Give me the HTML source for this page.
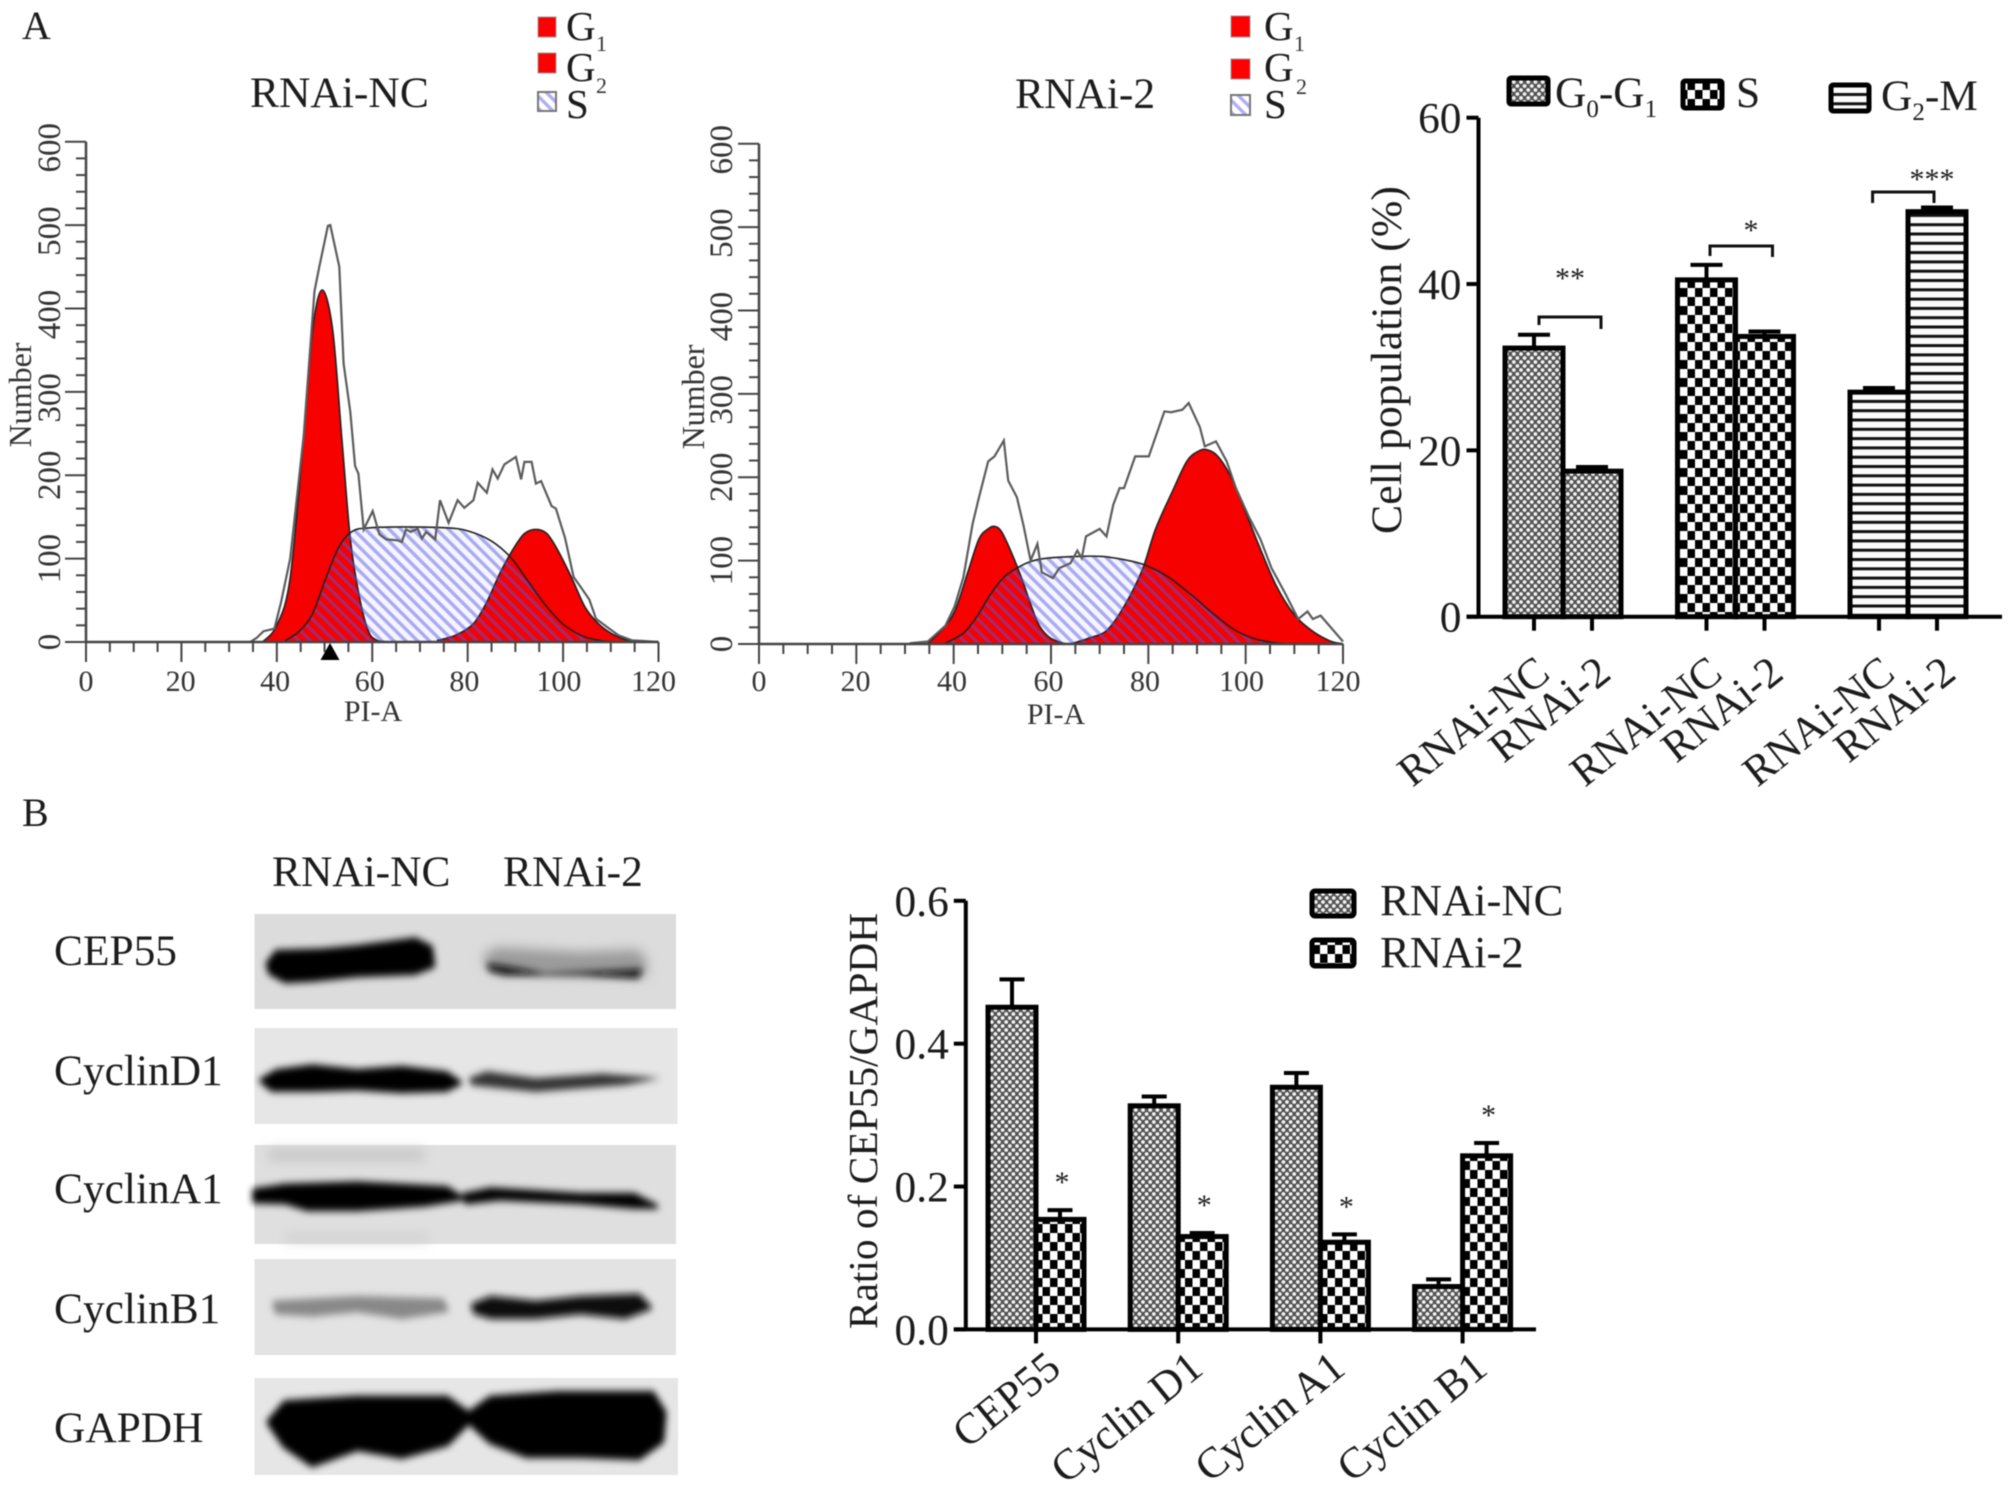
<!DOCTYPE html>
<html>
<head>
<meta charset="utf-8">
<title>Cell cycle figure</title>
<style>
html,body{margin:0;padding:0;background:#fff;width:2008px;height:1500px;overflow:hidden}
svg{display:block;filter:blur(.6px)}
text{font-family:"Liberation Serif",serif;fill:#1c1c1c}
.p{font-size:40px}.t{font-size:43.5px}.h{font-size:30px;fill:#333}.hy{font-size:33px;fill:#333}.n{font-size:32px;fill:#333}.s{font-size:22px;fill:#333}.g{font-size:41px}
.b{font-size:43.4px}.st{font-size:30px}
</style>
</head>
<body>
<svg id="fig" xmlns="http://www.w3.org/2000/svg" width="2008" height="1500" viewBox="0 0 2008 1500">
<defs>
<pattern id="dots" patternUnits="userSpaceOnUse" width="7.2" height="8"><rect width="7.2" height="8" fill="#555"/><circle cx="1.8" cy="2" r="1.9" fill="#f4f4f4"/><circle cx="5.4" cy="6" r="1.9" fill="#f4f4f4"/></pattern>
<pattern id="checks" patternUnits="userSpaceOnUse" width="15" height="18"><rect width="15" height="18" fill="#fff"/><rect width="7.5" height="9" fill="#000"/><rect x="7.5" y="9" width="7.5" height="9" fill="#000"/></pattern>
<pattern id="lines" patternUnits="userSpaceOnUse" width="10" height="9.3"><rect width="10" height="9.3" fill="#fbfbfb"/><rect width="10" height="3" fill="#111"/></pattern>
<pattern id="hatch" patternUnits="userSpaceOnUse" width="8.4" height="8.4" patternTransform="rotate(-45)"><rect width="3.4" height="8.4" fill="rgb(85,85,225)" fill-opacity=".47"/></pattern>
<filter id="blot" x="-10%" y="-40%" width="120%" height="180%"><feGaussianBlur stdDeviation="8"/></filter>
<filter id="blot2" x="-10%" y="-60%" width="120%" height="220%"><feGaussianBlur stdDeviation="13"/></filter>
</defs>

<text class="p" x="22" y="39">A</text>
<text class="p" x="22" y="826">B</text>

<g>
<text class="t" x="250" y="107">RNAi-NC</text>
<text class="h" text-anchor="middle" x="373" y="721">PI-A</text>
<text class="n" text-anchor="middle" transform="translate(31,395) rotate(-90)">Number</text>
<rect x="538" y="17" width="18" height="20" fill="#f00" stroke="#999"/>
<rect x="538" y="53" width="18" height="20" fill="#f00" stroke="#999"/>
<rect x="538" y="92" width="18" height="19" fill="url(#hatch)" stroke="#777" stroke-width="2"/>
<text class="g" x="566" y="40">G</text><text class="s" x="596" y="51">1</text>
<text class="g" x="566" y="81">G</text><text class="s" x="596" y="93">2</text>
<text class="g" x="566" y="118">S</text>
</g>

<g>
<text class="t" x="1015" y="108">RNAi-2</text>
<text class="h" text-anchor="middle" x="1056" y="724">PI-A</text>
<text class="n" text-anchor="middle" transform="translate(704,397) rotate(-90)">Number</text>
<rect x="1231" y="16" width="19" height="21" fill="#f00" stroke="#999"/>
<rect x="1231" y="59" width="19" height="20" fill="#f00" stroke="#999"/>
<rect x="1231" y="95" width="19" height="20" fill="url(#hatch)" stroke="#777" stroke-width="2"/>
<text class="g" x="1264" y="40">G</text><text class="s" x="1294" y="51">1</text>
<text class="g" x="1264" y="81">G</text><text class="s" x="1296" y="94">2</text>
<text class="g" x="1264" y="118">S</text>
</g>

<g id="hist-nc"></g>
<g id="hist-2"></g>
<path d="M330 643 L320.5 660 L339.5 660 Z" fill="#000"/>

<g>
<rect x="1509" y="78" width="39" height="26" rx="2" fill="url(#dots)" stroke="#000" stroke-width="5"/>
<text class="b" x="1555" y="107">G<tspan font-size="25" dy="10">0</tspan><tspan dy="-10">-G</tspan><tspan font-size="25" dy="10">1</tspan></text>
<rect x="1683" y="81" width="39" height="27" rx="2" fill="url(#checks)" stroke="#000" stroke-width="5"/>
<text class="b" x="1736" y="107">S</text>
<rect x="1831" y="85" width="38" height="26" rx="2" fill="url(#lines)" stroke="#000" stroke-width="5"/>
<text class="b" x="1881" y="110">G<tspan font-size="25" dy="10">2</tspan><tspan dy="-10">-M</tspan></text>
</g>
<text class="b" style="font-size:43.8px" text-anchor="middle" transform="translate(1401,360) rotate(-90)">Cell population (%)</text>
<g id="cycle-chart"></g>
<g fill="none" stroke="#111" stroke-width="3">
<path d="M1539 325V317H1601V329"/>
<path d="M1710 256V246H1772.5V257"/>
<path d="M1872.6 203V192H1934V203"/>
</g>
<text class="st" text-anchor="middle" x="1570" y="288">**</text>
<text class="st" text-anchor="middle" x="1751" y="240">*</text>
<text class="st" text-anchor="middle" x="1932" y="189">***</text>

<g>
<text class="b" x="272" y="886">RNAi-NC</text>
<text class="b" x="503" y="886">RNAi-2</text>
<text class="b" x="54" y="965">CEP55</text>
<text class="b" x="54" y="1085">CyclinD1</text>
<text class="b" x="54" y="1203">CyclinA1</text>
<text class="b" x="54" y="1323">CyclinB1</text>
<text class="b" x="54" y="1442">GAPDH</text>
<rect x="254.5" y="914" width="421.5" height="95" fill="#dcdcdc"/>
<rect x="254.5" y="1028" width="423" height="96" fill="#e6e6e6"/>
<rect x="254.5" y="1145" width="421.5" height="99" fill="#dfdfdf"/>
<rect x="254.5" y="1259" width="421.5" height="96" fill="#e3e3e3"/>
<rect x="254.5" y="1378" width="423.5" height="97" fill="#e6e6e6"/>
<g transform="translate(0,780) scale(.4464,.4587)">
<g filter="url(#blot2)">
<path d="M1080 385L1110 365L1300 375L1430 370L1450 395L1445 430L1300 425L1100 420Z" fill="#9a9a9a"/>
<path d="M600 805L950 805L950 830L600 830Z" fill="#c6c6c6"/>
<path d="M640 990L960 990L960 1005L640 1005Z" fill="#cccccc"/>
</g>
<g filter="url(#blot)" stroke-linejoin="round" stroke-width="10">
<path d="M600 400L620 375L720 372L800 365L930 348L965 365L970 405L930 420L800 425L700 435L640 438L605 420Z" fill="#000" stroke="#000"/>
<path d="M1090 400L1130 405L1220 420L1380 415L1440 412L1430 432L1300 425L1130 425L1095 415Z" fill="#111"/>
<path d="M585 655L620 635L700 625L800 635L900 628L1000 640L1030 660L1000 675L900 678L800 672L700 675L610 675Z" fill="#000" stroke="#000"/>
<path d="M1050 650L1090 635L1200 650L1350 640L1480 650L1400 665L1200 680L1080 668L1055 665Z" fill="#333"/>
<path d="M570 895L640 885L800 880L1000 890L1035 912L950 925L800 935L690 935L640 920L570 918Z" fill="#000" stroke="#000"/>
<path d="M1040 905L1100 893L1300 905L1420 905L1470 930L1420 930L1300 920L1120 912L1045 920Z" fill="#000" stroke="#000"/>
<path d="M615 1140L700 1135L800 1130L990 1135L1000 1155L900 1170L800 1155L700 1165L620 1160Z" fill="#888" stroke="#888"/>
<path d="M1060 1145L1100 1130L1200 1140L1300 1130L1430 1125L1455 1150L1400 1170L1300 1160L1200 1170L1100 1170L1065 1160Z" fill="#111" stroke="#111"/>
<path d="M605 1400L640 1360L800 1350L1000 1350L1050 1385L1100 1350L1250 1340L1460 1340L1485 1380L1480 1440L1430 1475L1300 1470L1180 1470L1100 1440L1050 1395L1000 1445L900 1472L800 1455L700 1490L640 1450Z" fill="#000" stroke="#000" stroke-width="16"/>
</g>
</g>
</g>

<g>
<rect x="1312" y="891" width="42" height="25" rx="3" fill="url(#dots)" stroke="#000" stroke-width="5"/>
<rect x="1312" y="940" width="42" height="26" rx="3" fill="url(#checks)" stroke="#000" stroke-width="5"/>
<text class="b" style="font-size:44.6px" x="1380" y="915">RNAi-NC</text>
<text class="b" style="font-size:44.6px" x="1380" y="967">RNAi-2</text>
</g>
<text class="b" style="font-size:41.4px" text-anchor="middle" transform="translate(877,1121) rotate(-90)">Ratio of CEP55/GAPDH</text>
<g id="ratio-chart"></g>
</svg>

<script>
// ---- Flow cytometry histograms: PI-A (x) and cell number (y) ----
const histXTickLabels = ['0','20','40','60','80','100','120'];
const histYTickLabels = ['0','100','200','300','400','500','600'];

const ncEnvelopePi = [34.4,35.8,37.2,39.5,40.9,42.8,45.6,47.9,48.9,50.7,51.2,53.1,54,55.4,56.4,57.1,58.2,60.1,61.5,62.9,65.3,66.2,67.1,68.1,69.5,70.4,71.3,73.2,74.2,76,77.9,79.3,81.2,82.1,84,85.2,86.3,87.7,90.1,91.2,91.9,93.4,94.3,95.4,97.6,98.5,100.4,102.2,103.7,105.5,106.9,109.7,111.6,114.4,120];
const ncEnvelopeCount = [0,5,13,16,48,100,246,421,450,499,500,450,334,276,211,202,135,157,129,123,122,120,135,132,136,124,132,123,170,143,170,161,170,191,179,207,196,213,222,195,216,216,190,193,163,160,125,78,66,51,28,16,8,2,0];
const ncG1Pi = [37,40,42.8,45.6,47.5,49.5,51.7,53.6,55.4,57.3,59.2,61,63.4];
const ncG1Count = [0,20,77,246,374,422,374,246,124,54,13,2,0];
const ncG2Pi = [73.7,77.4,81.2,84,86.8,89.6,91.9,94.3,96.6,99,101.8,104.6,107.4,110.2,113,115.8];
const ncG2Count = [2,8,22,48,83,112,130,135,130,109,77,42,22,10,3,0];
const ncSPi = [41.9,44.7,47.5,50.3,53.1,55.9,59.6,66.2,75.6,80.2,85,89.1,92.4,96.2,99.9,103.7,107.4,111];
const ncSCount = [2,13,34,77,115,133,137,138,137,133,121,101,75,45,22,8,2,0];

const kdEnvelopePi = [31,34.7,38.3,40.2,42,43.9,45.2,47.1,48.4,50.3,51.2,53,54.4,55.8,57.2,58.1,60.4,61.7,64,65.4,66.3,67.2,70,71.4,72.8,74.1,75,77.3,80.1,83.3,84.7,87,88.3,90.6,91.6,93.9,96.1,98,100.7,103,105.3,108,110.8,112.7,113.8,115.4,120];
const kdEnvelopeCount = [1,3,22,45,80,144,176,219,225,244,196,176,141,100,120,86,79,91,97,112,103,129,138,129,167,187,187,225,225,279,278,281,289,260,237,243,219,187,152,126,91,62,30,39,30,34,3];
const kdG1Pi = [34.7,37.4,40.2,42.9,45.2,47.1,48.4,49.8,51.7,53.9,55.8,57.6,59.9,63.1];
const kdG1Count = [1,16,39,86,126,138,141,135,112,80,48,22,7,0];
const kdG2Pi = [64,67.7,71.4,75,78.7,81.5,85.1,87.9,90.2,92,94.3,97.1,99.8,102.6,106.2,109.9,113.6,117.2,120];
const kdG2Count = [0,7,16,45,88,138,185,219,231,233,225,199,161,120,71,36,16,4,0];
const kdSPi = [38.3,42,44.8,47.5,50.3,53,55.8,59.4,65,70.5,76,79.6,84.2,88.8,93.4,98,102.6,108];
const kdSCount = [1,13,33,59,80,91,99,103,105,105,100,94,80,59,36,16,5,0];

// ---- Cell-cycle bars (%) ----
const cycleTickLabels = ['0','20','40','60'];
const cycleCategories = ['RNAi-NC','RNAi-2','RNAi-NC','RNAi-2','RNAi-NC','RNAi-2'];
const cycleValues = [32.3,17.5,40.5,33.7,27,48.7];
const cycleErrorTops = [33.9,18,42.3,34.3,27.5,49.2];
const cyclePatterns = ['dots','dots','checks','checks','lines','lines'];

// ---- CEP55 / GAPDH ratio bars ----
const ratioTickLabels = ['0.0','0.2','0.4','0.6'];
const ratioCategories = ['CEP55','Cyclin D1','Cyclin A1','Cyclin B1'];
const ratioNc = [0.451,0.313,0.339,0.06];
const ratioNcErrorTops = [0.49,0.326,0.359,0.07];
const ratioKd = [0.154,0.13,0.122,0.243];
const ratioKdErrorTops = [0.167,0.135,0.133,0.261];
const ratioStars = ['*','*','*','*'];

const SVGNS = 'http://www.w3.org/2000/svg';
function make(tag, parent, geom) {
  const el = document.createElementNS(SVGNS, tag);
  for (const k in geom) el.setAttribute(k, geom[k]);
  parent.appendChild(el);
  return el;
}
function pathOf(xs, ys, sx, sy) {
  let d = '';
  xs.forEach((v, i) => { d += (i ? 'L' : 'M') + sx(v).toFixed(1) + ' ' + sy(ys[i]).toFixed(1); });
  return d;
}
// smooth fitted curve through the points, closed down to the baseline
function smoothArea(xs, ys, sx, sy) {
  const px = xs.map(sx), py = ys.map(sy), base = sy(0), n = xs.length;
  let d = 'M' + px[0].toFixed(1) + ' ' + base.toFixed(1) + 'L' + px[0].toFixed(1) + ' ' + py[0].toFixed(1);
  for (let i = 0; i < n - 1; i++) {
    const a = Math.max(i - 1, 0), b = Math.min(i + 2, n - 1);
    const c1x = px[i] + (px[i + 1] - px[a]) / 6, c1y = Math.min(base, py[i] + (py[i + 1] - py[a]) / 6);
    const c2x = px[i + 1] - (px[b] - px[i]) / 6, c2y = Math.min(base, py[i + 1] - (py[b] - py[i]) / 6);
    d += 'C' + c1x.toFixed(1) + ' ' + c1y.toFixed(1) + ' ' + c2x.toFixed(1) + ' ' + c2y.toFixed(1) + ' ' + px[i + 1].toFixed(1) + ' ' + py[i + 1].toFixed(1);
  }
  return d + 'L' + px[n - 1].toFixed(1) + ' ' + base.toFixed(1) + 'Z';
}

function drawHistogram(root, box, s) {
  const sx = v => box.x0 + v * (box.x1 - box.x0) / 120;
  const sy = v => box.y0 - v * (box.y0 - box.y1) / 600;
  const sPath = smoothArea(s.sx, s.sy, sx, sy);

  const under = make('path', root, {d: sPath, fill: '#f5f5ff'});
  
  
  const g1 = make('path', root, {d: smoothArea(s.g1x, s.g1y, sx, sy), fill: '#f60000', stroke: '#222', 'stroke-width': 1.6});
  
  
  const g2 = make('path', root, {d: smoothArea(s.g2x, s.g2y, sx, sy), fill: '#f60000', stroke: '#222', 'stroke-width': 1.6});
  
  
  const sp = make('path', root, {d: sPath, fill: 'url(#hatch)', stroke: '#222', 'stroke-width': 1.6});
  
  
  const env = make('path', root, {d: pathOf(s.ex, s.ey, sx, sy), fill: 'none', stroke: '#5c5c5c', 'stroke-width': 2.2});
  
  

  const xAxis = make('line', root, {x1: box.x0, x2: box.x1, y1: box.y0, y2: box.y0, stroke: '#444', 'stroke-width': 2.5});
  
  
  const yAxis = make('line', root, {x1: box.x0, x2: box.x0, y1: box.y0, y2: box.y1, stroke: '#444', 'stroke-width': 2.5});
  
  

  for (let v = 0; v <= 120; v += 5) {
    const major = v % 20 === 0;
    const t = make('line', root, {x1: sx(v), x2: sx(v), y1: box.y0, y2: box.y0 + (major ? 20 : 10), stroke: '#444', 'stroke-width': 2});
    
    
  }
  for (let v = 0; v <= 600; v += 20) {
    const major = v % 100 === 0;
    const t = make('line', root, {x1: box.x0, x2: box.x0 - (major ? 21 : 10), y1: sy(v), y2: sy(v), stroke: '#444', 'stroke-width': 2});
    
    
  }
  histXTickLabels.forEach(lab => {
    const t = make('text', root, {x: sx(+lab) - 5 * (+lab) / 120, y: 691, 'text-anchor': 'middle', class: 'h'});
    t.textContent = lab;
    
    
  });
  histYTickLabels.forEach(lab => {
    const v = +lab;
    const t = make('text', root, {'text-anchor': 'middle', class: 'hy', transform: 'translate(' + box.labelX + ',' + (sy(v) + (v >= 300 ? 6 : 0)) + ') rotate(-90)'});
    t.textContent = lab;
    
    
  });
}

drawHistogram(document.getElementById('hist-nc'),
  {x0: 86, x1: 658.5, y0: 642, y1: 141.7, labelX: 60},
  {g1x: ncG1Pi, g1y: ncG1Count, g2x: ncG2Pi, g2y: ncG2Count, sx: ncSPi, sy: ncSCount, ex: ncEnvelopePi, ey: ncEnvelopeCount});
drawHistogram(document.getElementById('hist-2'),
  {x0: 759, x1: 1343, y0: 644, y1: 143.7, labelX: 732},
  {g1x: kdG1Pi, g1y: kdG1Count, g2x: kdG2Pi, g2y: kdG2Count, sx: kdSPi, sy: kdSCount, ex: kdEnvelopePi, ey: kdEnvelopeCount});

function drawBar(root, x, w, top, base, errTop, pattern, capW) {
  const cx = x + w / 2;
  const stem = make('line', root, {x1: cx, x2: cx, y1: top, y2: errTop, stroke: '#000', 'stroke-width': 4});
  
  
  const cap = make('line', root, {x1: cx - capW / 2, x2: cx + capW / 2, y1: errTop, y2: errTop, stroke: '#000', 'stroke-width': 4});
  
  
  const r = make('rect', root, {x: x, y: top, width: w, height: base - top, fill: 'url(#' + pattern + ')', stroke: '#000', 'stroke-width': 5});
  
  
}

function drawAxes(root, xStart, xEnd, y, tickLabels, top, base) {
  const yAxis = make('line', root, {x1: xStart, x2: xStart, y1: top, y2: base, stroke: '#000', 'stroke-width': 4});
  
  
  const xAxis = make('line', root, {x1: xStart - 12, x2: xEnd, y1: base, y2: base, stroke: '#000', 'stroke-width': 4});
  
  
  tickLabels.forEach(lab => {
    const v = +lab;
    const t = make('line', root, {x1: xStart - 12, x2: xStart, y1: y(v), y2: y(v), stroke: '#000', 'stroke-width': 4});
    
    
    const l = make('text', root, {x: xStart - 17, y: y(v) + 15, 'text-anchor': 'end', class: 'b'});
    l.textContent = lab;
    
    
  });
}

// cell-cycle chart
(function () {
  const root = document.getElementById('cycle-chart');
  const base = 616.7, top = 117.7, xStart = 1478.5;
  const y = v => base - v * (base - top) / 60;
  const barX = i => 1505 + Math.floor(i / 2) * 172.5 + (i % 2) * 58;
  cycleValues.forEach((v, i) => {
    drawBar(root, barX(i), 58, y(v), base, y(cycleErrorTops[i]), cyclePatterns[i], 32);
  });
  drawAxes(root, xStart, 2002, y, cycleTickLabels, top, base);
  cycleCategories.forEach((c, i) => {
    const tx = barX(i) + 29;
    const t = make('line', root, {x1: tx, x2: tx, y1: base, y2: base + 14, stroke: '#000', 'stroke-width': 4});
    
    
    const l = make('text', root, {'text-anchor': 'end', class: 'b', transform: 'translate(' + (tx + 18 + (i % 2) * 3) + ',677) rotate(-38.5)'});
    l.textContent = c;
    
    
  });
})();

// ratio chart
(function () {
  const root = document.getElementById('ratio-chart');
  const base = 1329.4, top = 900.8, xStart = 965.8;
  const y = v => base - v * (base - top) / 0.6;
  const barX = (g, m) => 988 + g * 142.2 + m * 48;
  ratioCategories.forEach((c, g) => {
    drawBar(root, barX(g, 0), 48, y(ratioNc[g]), base, y(ratioNcErrorTops[g]), 'dots', 25);
    drawBar(root, barX(g, 1), 48, y(ratioKd[g]), base, y(ratioKdErrorTops[g]), 'checks', 25);
    const s = make('text', root, {x: barX(g, 1) + 26, y: y(ratioKdErrorTops[g]) - 18, 'text-anchor': 'middle', class: 'st'});
    s.textContent = ratioStars[g];
    
    
  });
  drawAxes(root, xStart, 1536, y, ratioTickLabels, top, base);
  ratioCategories.forEach((c, g) => {
    const tx = barX(g, 1);
    const t = make('line', root, {x1: tx, x2: tx, y1: base, y2: base + 14, stroke: '#000', 'stroke-width': 4});
    
    
    const l = make('text', root, {'text-anchor': 'end', class: 'b', transform: 'translate(' + (tx + 27) + ',1372) rotate(-39)'});
    l.textContent = c;
    
    
  });
})();
</script>
</body>
</html>
